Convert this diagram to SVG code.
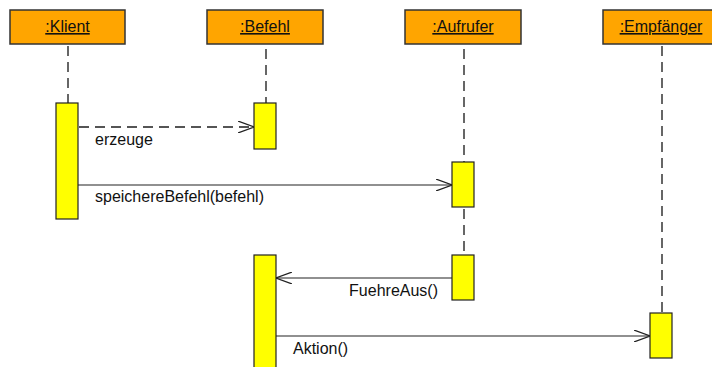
<svg xmlns="http://www.w3.org/2000/svg" width="712" height="367" viewBox="0 0 712 367">
  <defs>
    <style>
      .head { fill: #ffa500; stroke: #333; stroke-width: 1.5; }
      .head-text { font-family: "Liberation Sans", Arial, sans-serif; font-size: 16px; fill: #111; text-anchor: middle; text-decoration: underline; }
      .life { stroke: #666; stroke-width: 2; stroke-dasharray: 10 6; fill: none; }
      .act { fill: #ffff00; stroke: #222; stroke-width: 1.2; }
      .msg { stroke: #222; stroke-width: 1.2; fill: none; }
      .msg-dash { stroke: #555; stroke-width: 2; stroke-dasharray: 10 6; fill: none; }
      .label { font-family: "Liberation Sans", Arial, sans-serif; font-size: 16px; fill: #111; }
    </style>
    <marker id="open" viewBox="0 0 16 12" refX="16" refY="6" markerWidth="16" markerHeight="12" markerUnits="userSpaceOnUse" orient="auto">
      <path d="M0,0 L16,6 L0,12" fill="none" stroke="#222" stroke-width="1.2"/>
    </marker>
  </defs>

  <!-- lifelines -->
  <g id="lifelines">
    <line class="life" x1="68" y1="46" x2="68" y2="103"/>
    <line class="life" x1="266" y1="49" x2="266" y2="103"/>
    <line class="life" x1="464" y1="49" x2="464" y2="255"/>
    <line class="life" x1="662" y1="46" x2="662" y2="313"/>
  </g>

  <g id="klient">
    <rect class="head" x="10" y="10" width="115" height="34"/>
    <text class="head-text" x="67.5" y="32">:Klient</text>
    <rect class="act" x="56" y="103" width="22" height="116"/>
  </g>

  <g id="befehl">
    <rect class="head" x="207" y="10" width="116" height="34"/>
    <text class="head-text" x="265" y="32">:Befehl</text>
    <rect class="act" x="254" y="103" width="22" height="46"/>
    <rect class="act" x="254" y="255" width="22" height="115"/>
  </g>

  <g id="aufrufer">
    <rect class="head" x="405" y="10" width="116" height="34"/>
    <text class="head-text" x="463" y="32">:Aufrufer</text>
    <rect class="act" x="452" y="162" width="22" height="45"/>
    <rect class="act" x="452" y="255" width="22" height="45"/>
  </g>

  <g id="empfaenger">
    <rect class="head" x="603" y="10" width="116" height="34"/>
    <text class="head-text" x="661" y="32">:Empfänger</text>
    <rect class="act" x="650" y="313" width="22" height="45"/>
  </g>

  <!-- messages -->
  <g id="connectors">
    <line class="msg-dash" x1="79" y1="127" x2="254" y2="127" marker-end="url(#open)"/>
    <line class="msg" x1="78" y1="185" x2="452" y2="185" marker-end="url(#open)"/>
    <line class="msg" x1="452" y1="278" x2="276" y2="278" marker-end="url(#open)"/>
    <line class="msg" x1="276" y1="336" x2="650" y2="336" marker-end="url(#open)"/>
    <text class="label" x="95" y="145">erzeuge</text>
    <text class="label" x="95" y="202">speichereBefehl(befehl)</text>
    <text class="label" x="438" y="296" text-anchor="end">FuehreAus()</text>
    <text class="label" x="293" y="354">Aktion()</text>
  </g>
</svg>
